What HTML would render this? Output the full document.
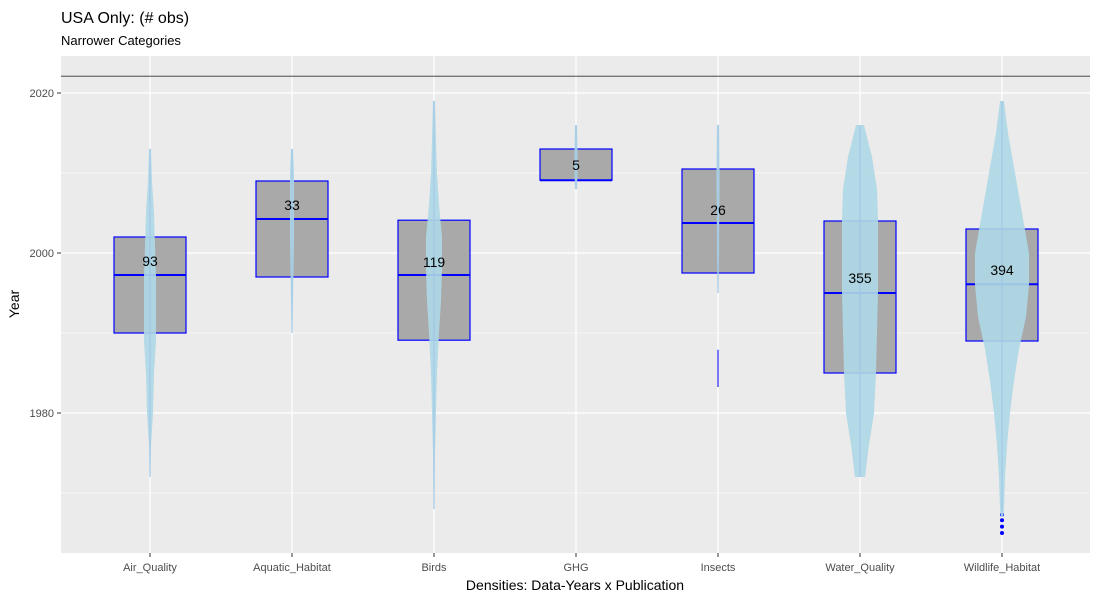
<!DOCTYPE html>
<html><head><meta charset="utf-8"><style>
body{margin:0;background:#fff;font-family:"Liberation Sans",sans-serif}
</style></head><body>
<svg id="c" width="1100" height="600" xmlns="http://www.w3.org/2000/svg">
<text x="61" y="23" font-size="16" fill="#000">USA Only: (# obs)</text>
<text x="61" y="45" font-size="13" fill="#000">Narrower Categories</text>
<rect x="61" y="56" width="1029" height="497" fill="#ebebeb"/>
<g id="grid"></g><g id="marks"></g><g id="axes"></g>
<text x="575" y="590" font-size="14" text-anchor="middle">Densities: Data-Years x Publication</text>
<text transform="translate(19,304) rotate(-90)" font-size="14" text-anchor="middle">Year</text>
</svg>
<script>
const categories=["Air_Quality","Aquatic_Habitat","Birds","GHG","Insects","Water_Quality","Wildlife_Habitat"];
const counts=[93,33,119,5,26,355,394];
const q1=[1990,1997,1989.1,2009.1,1997.5,1985,1989];
const q3=[2002,2009,2004.1,2013,2010.5,2004,2003];
const medians=[1997.25,2004.25,1997.25,2009.1,2003.75,1995,1996.1];
const whiskerLow=[null,null,null,null,1983.25,null,null];
const whiskerLowStart=[null,null,null,null,1987.9,null,null];
const labelYears=[1999,2006,1998.9,2011,2005.4,1996.9,1997.9];
const violinYears=[
 [2013,2009,2005,2001,1997,1993,1989,1985,1980,1976,1972],
 [2013,2010,2006,2002,1998,1994,1990],
 [2019,2014,2010,2006,2002,1998,1994,1990,1985,1980,1975,1968],
 [2016,2013,2010,2008],
 [2016,2012,2008,2004,2000,1996,1995],
 [2016,2012,2008,2004,2000,1995,1990,1985,1980,1976,1972],
 [2019,2015,2010,2005,2000,1996,1992,1988,1984,1980,1976,1972,1968,1967]];
const violinWidths=[
 [1,2,4,5,6,6,6,4,3,1,0.5],
 [1,2,2,2,1.5,1,0.5],
 [1,2,3,5,8,8,7,5,3,2,1,0.5],
 [1,1.5,1.5,1],
 [1,1.5,1.5,1.2,1,0.6,0.3],
 [4,12,17,18,18,18,17,16,14,9,5],
 [2,6,13,20,27,27,24,17,12,8,5,3,2,1]];
const outlierYears=[[],[],[],[],[],[],[1965,1965.8,1966.6,1967.3]];
const yTicks=[1980,2000,2020];
const yMinor=[1970,1990,2010];
const refLine=2022.1;

const NS="http://www.w3.org/2000/svg";
const X=i=>150+i*142;
const Y=v=>253-(v-2000)*8;
function mk(tag,attrs,parent){const e=document.createElementNS(NS,tag);for(const k in attrs)e.setAttribute(k,attrs[k]);parent.appendChild(e);return e;}
const grid=document.getElementById('grid'),marks=document.getElementById('marks'),axes=document.getElementById('axes');
yMinor.forEach(v=>{const l=mk('line',{x1:61,x2:1090,y1:Y(v),y2:Y(v),stroke:'#fff','stroke-width':0.6},grid);

});
yTicks.forEach(v=>{const l=mk('line',{x1:61,x2:1090,y1:Y(v),y2:Y(v),stroke:'#fff','stroke-width':1.2},grid);


mk('line',{x1:57,x2:61,y1:Y(v),y2:Y(v),stroke:'#333'},axes);
const t=mk('text',{x:54,y:Y(v)+4,'font-size':11,'text-anchor':'end',fill:'#4d4d4d'},axes);t.textContent=v;

});
categories.forEach((c,i)=>{const l=mk('line',{x1:X(i),x2:X(i),y1:56,y2:553,stroke:'#fff','stroke-width':1.2},grid);


mk('line',{x1:X(i),x2:X(i),y1:553,y2:557,stroke:'#333'},axes);
const t=mk('text',{x:X(i),y:571,'font-size':11,'text-anchor':'middle',fill:'#4d4d4d'},axes);t.textContent=c;

});
const rl=mk('line',{x1:61,x2:1090,y1:Y(refLine),y2:Y(refLine),stroke:'#333','stroke-width':0.8},marks);


categories.forEach((c,i)=>{
 const cx=X(i);
 if(whiskerLow[i]!==null){const w=mk('line',{x1:cx,x2:cx,y1:Y(whiskerLowStart[i]),y2:Y(whiskerLow[i]),stroke:'blue'},marks);
 
 }
 const b=mk('rect',{x:cx-36,y:Y(q3[i]),width:72,height:Y(q1[i])-Y(q3[i]),fill:'#a9a9a9',stroke:'blue','stroke-width':1.2},marks);
 
 
 const m=mk('line',{x1:cx-36,x2:cx+36,y1:Y(medians[i]),y2:Y(medians[i]),stroke:'blue','stroke-width':2},marks);
 
 
 outlierYears[i].forEach(o=>{const p=mk('circle',{cx:cx,cy:Y(o),r:2,fill:'blue'},marks);
 
 });
 const ys=violinYears[i],ws=violinWidths[i];
 let d='';ys.forEach((v,k)=>{d+=(k?'L':'M')+(cx+ws[k])+','+Y(v);});
 for(let k=ys.length-1;k>=0;k--)d+='L'+(cx-ws[k])+','+Y(ys[k]);d+='Z';
 const vp=mk('path',{d:d,fill:'#add8e6','fill-opacity':0.9,stroke:'none'},marks);
 
 
 const vl=mk('line',{x1:cx,x2:cx,y1:Y(ys[0]),y2:Y(ys[ys.length-1]),stroke:'#9ec5ea','stroke-width':1},marks);
 
 
 const t=mk('text',{x:cx,y:Y(labelYears[i])+5,'font-size':14,'text-anchor':'middle',fill:'#000'},marks);t.textContent=counts[i];
 
 
});
</script>
</body></html>
